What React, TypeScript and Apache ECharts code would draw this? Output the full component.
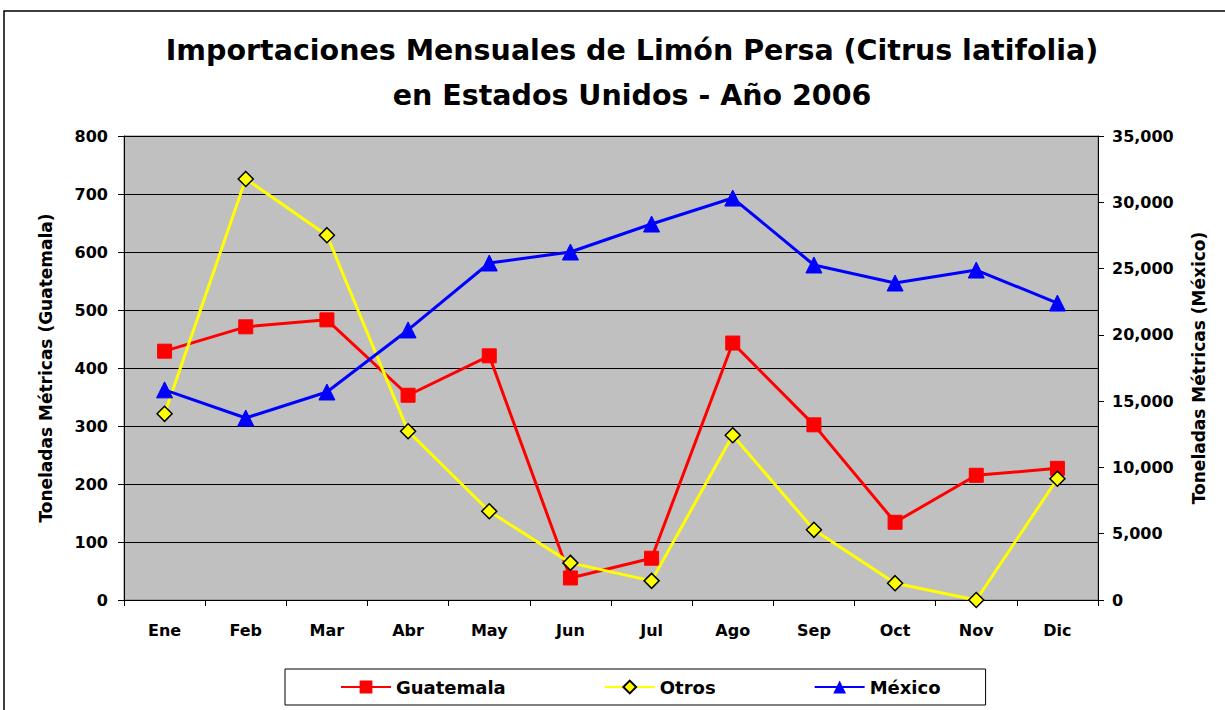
import React, { useEffect, useRef } from "react";
import * as echarts from "echarts";

const months = ["Ene", "Feb", "Mar", "Abr", "May", "Jun", "Jul", "Ago", "Sep", "Oct", "Nov", "Dic"];
const guatemala = [429, 471, 483, 353, 421, 38, 72, 443, 302, 134, 215, 227];
const otros = [321, 726, 629, 291, 153, 64, 33, 284, 121, 29, 0, 209];
const mexico = [15850, 13730, 15690, 20370, 25420, 26250, 28360, 30320, 25270, 23910, 24890, 22400];

const FONT = "'DejaVu Sans', 'Liberation Sans', Arial, sans-serif";

export default function App() {
  const ref = useRef<HTMLDivElement>(null);
  useEffect(() => {
    document.body.style.margin = "0";
    const chart = echarts.init(ref.current!, undefined, { renderer: "svg" });
    chart.setOption({
      animation: false,
      backgroundColor: "#ffffff",
      textStyle: { fontFamily: FONT },
      title: {
        text: "Importaciones Mensuales de Limón Persa (Citrus latifolia)\nen Estados Unidos - Año 2006",
        left: 627,
        textAlign: "center",
        top: 23,
        textStyle: { fontFamily: FONT, fontSize: 28.5, fontWeight: "bold", color: "#000", lineHeight: 45 },
      },
      graphic: [
        {
          type: "rect",
          shape: { x: 4, y: 11, width: 1240, height: 720 },
          style: { fill: "none", stroke: "#000", lineWidth: 1.5 },
          silent: true,
          z: -10,
        },
      ],
      legend: {
        left: 285,
        top: 669,
        padding: [9, 45, 9, 55],
        itemGap: 98,
        itemWidth: 50,
        itemHeight: 16,
        backgroundColor: "#ffffff",
        borderColor: "#000",
        borderWidth: 1,
        textStyle: { fontFamily: FONT, fontSize: 18, fontWeight: "bold", color: "#000" },
        data: ["Guatemala", "Otros", "México"],
      },
      grid: {
        left: 124,
        right: 127,
        top: 136,
        bottom: 110,
        show: true,
        backgroundColor: "#C0C0C0",
        borderColor: "#808080",
        borderWidth: 1,
      },
      xAxis: {
        type: "category",
        data: months,
        boundaryGap: true,
        axisLine: { lineStyle: { color: "#000", width: 1 } },
        axisTick: { show: true, length: 6, inside: false, lineStyle: { color: "#000" } },
        axisLabel: { fontFamily: FONT, fontSize: 16, fontWeight: "bold", color: "#000", margin: 22 },
      },
      yAxis: [
        {
          type: "value",
          min: 0,
          max: 800,
          interval: 100,
          name: "Toneladas Métricas (Guatemala)",
          nameLocation: "middle",
          nameGap: 70,
          nameTextStyle: { fontFamily: FONT, fontSize: 17, fontWeight: "bold", color: "#000" },
          axisLine: { show: true, lineStyle: { color: "#000" } },
          axisTick: { show: true, length: 6, lineStyle: { color: "#000" } },
          axisLabel: { fontFamily: FONT, fontSize: 16, fontWeight: "bold", color: "#000", margin: 16 },
          splitLine: { show: true, lineStyle: { color: "#000", width: 1 } },
        },
        {
          type: "value",
          min: 0,
          max: 35000,
          interval: 5000,
          position: "right",
          name: "Toneladas Métricas (México)",
          nameLocation: "middle",
          nameGap: 92,
          nameRotate: 90,
          nameTextStyle: { fontFamily: FONT, fontSize: 17, fontWeight: "bold", color: "#000" },
          axisLine: { show: true, lineStyle: { color: "#000" } },
          axisTick: { show: true, length: 6, lineStyle: { color: "#000" } },
          axisLabel: {
            fontFamily: FONT,
            fontSize: 16,
            fontWeight: "bold",
            color: "#000",
            margin: 14,
            formatter: (v: number) => v.toLocaleString("en-US"),
          },
          splitLine: { show: false },
        },
      ],
      series: [
        {
          name: "Guatemala",
          type: "line",
          yAxisIndex: 0,
          data: guatemala,
          symbol: "rect",
          symbolSize: 14,
          lineStyle: { color: "#FF0000", width: 3 },
          itemStyle: { color: "#FF0000", borderColor: "#FF0000" },
          z: 3,
        },
        {
          name: "Otros",
          type: "line",
          yAxisIndex: 0,
          data: otros,
          symbol: "diamond",
          symbolSize: 15,
          lineStyle: { color: "#FFFF00", width: 3 },
          itemStyle: { color: "#FFFF00", borderColor: "#000", borderWidth: 1.5 },
          z: 4,
        },
        {
          name: "México",
          type: "line",
          yAxisIndex: 1,
          data: mexico,
          symbol: "triangle",
          symbolSize: 16,
          lineStyle: { color: "#0000FF", width: 3 },
          itemStyle: { color: "#0000FF", borderColor: "#0000FF" },
          z: 5,
        },
      ],
    });
    return () => chart.dispose();
  }, []);
  return <div ref={ref} style={{ width: 1225, height: 710 }} />;
}
